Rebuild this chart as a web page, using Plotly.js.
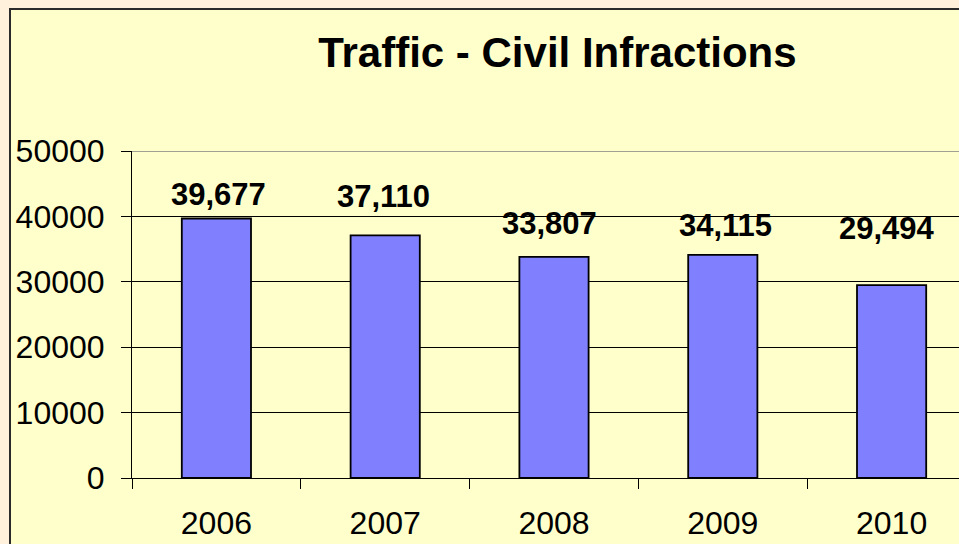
<!DOCTYPE html>
<html>
<head>
<meta charset="utf-8">
<script src="https://cdn.plot.ly/plotly-3.0.1.min.js"></script>
<style>
  html, body { margin: 0; padding: 0; width: 959px; height: 544px; overflow: hidden; background: #FFF1DB; }
  #frame { position: absolute; left: 9px; top: 8px; width: 1000px; height: 560px;
           border-left: 2px solid #2b2b2b; border-top: 2px solid #2b2b2b; background: #FFFFCC; }
  #chart { width: 1000px; height: 560px; }
</style>
</head>
<body>
<div id="frame"><div id="chart"></div></div>
<script>
const years = ['2006', '2007', '2008', '2009', '2010'];
const infractions = [39677, 37110, 33807, 34115, 29494];
const valueLabels = ['39,677', '37,110', '33,807', '34,115', '29,494'];
const yTicks = [0, 10000, 20000, 30000, 40000, 50000];

// label placement offsets (pixels), layout styling only
const labelShiftX = [2, -2, -5, 3, -5];
const labelShiftY = [24, 39, 33, 29, 57];

const trace = {
  type: 'bar',
  x: years,
  y: infractions,
  width: 0.41,
  marker: { color: '#8080FF', line: { color: '#000000', width: 1.8 } },
  hoverinfo: 'none'
};

const annotations = years.map((yr, i) => ({
  x: i, y: infractions[i], xref: 'x', yref: 'y',
  text: valueLabels[i], showarrow: false,
  xanchor: 'center', yanchor: 'middle',
  xshift: labelShiftX[i], yshift: labelShiftY[i],
  font: { family: 'Liberation Sans, Arial, sans-serif', size: 31, color: '#000', weight: 'bold' }
}));

const layout = {
  width: 1000, height: 560,
  margin: { l: 121, r: 35, t: 141, b: 92 },
  paper_bgcolor: '#FFFFCC',
  plot_bgcolor: '#FFFFCC',
  showlegend: false,
  title: {
    text: '<b>Traffic - Civil Infractions</b>',
    x: 0.504, xref: 'paper', xanchor: 'center',
    y: 0.924, yref: 'container', yanchor: 'middle',
    font: { family: 'Liberation Sans, Arial, sans-serif', size: 42, color: '#000' }
  },
  font: { family: 'Liberation Sans, Arial, sans-serif', color: '#000' },
  xaxis: {
    type: 'category',
    categoryorder: 'array', categoryarray: years,
    range: [-0.5, 4.5],
    tickson: 'boundaries',
    ticks: 'outside', ticklen: 10, tickwidth: 1, tickcolor: '#000',
    showline: true, linecolor: '#000', linewidth: 1,
    showgrid: false,
    tickangle: 0,
    tickfont: { size: 32, color: '#000' },
    ticklabelstandoff: 17,
    fixedrange: true
  },
  yaxis: {
    range: [0, 50000],
    tickvals: yTicks,
    ticktext: yTicks.map(String),
    ticks: 'outside', ticklen: 10, tickwidth: 1, tickcolor: '#000',
    showline: true, linecolor: '#000', linewidth: 1,
    showgrid: true, gridcolor: '#000', gridwidth: 1,
    zeroline: false,
    tickfont: { size: 32, color: '#000' },
    ticklabelstandoff: 10,
    fixedrange: true
  },
  shapes: [{
    type: 'line', xref: 'paper', yref: 'y', x0: 0, x1: 1, y0: 50000, y1: 50000,
    line: { color: '#808080', width: 1.5 }, layer: 'above'
  }],
  annotations: annotations
};

Plotly.newPlot('chart', [trace], layout, { displayModeBar: false, staticPlot: true });
</script>
</body>
</html>
